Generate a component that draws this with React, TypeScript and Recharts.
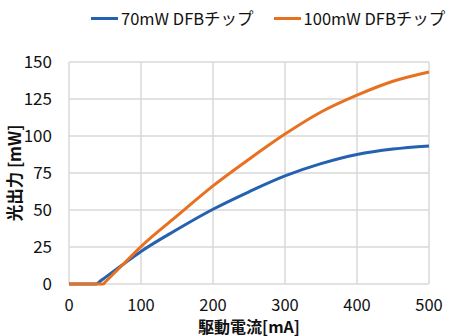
import React from "react";
import { LineChart, Line, XAxis, YAxis, CartesianGrid, Legend } from "recharts";

const currentMA70 = [0, 38, 42, 50, 75, 100, 150, 200, 250, 300, 350, 400, 450, 500];
const power70 = [0, 0, 1.4, 4.3, 13.2, 22, 36.8, 50.5, 62.3, 73, 81.3, 87.5, 91.2, 93.3];
const currentMA100 = [0, 47.5, 51, 75, 100, 150, 200, 250, 300, 350, 400, 450, 500];
const power100 = [0, 0, 1.7, 13.2, 25.3, 46, 66.3, 84.3, 101.3, 116.2, 127.6, 137, 143.3];
const xTicks = [0, 100, 200, 300, 400, 500];
const yTicks = [0, 25, 50, 75, 100, 125, 150];
const seriesNames = ["70mW DFBチップ", "100mW DFBチップ"];
const seriesColors = ["#2461B0", "#E8711F"];
const xTitle = "駆動電流[mA]";
const yTitle = "光出力 [mW]";

const data70 = currentMA70.map((x, i) => ({ x, y: power70[i] }));
const data100 = currentMA100.map((x, i) => ({ x, y: power100[i] }));

const FONT = "'Noto Sans CJK JP', 'Noto Sans', sans-serif";
const TEXT = "#111";

const LegendContent = () => (
  <div style={{ display: "flex", justifyContent: "flex-start", fontFamily: FONT, fontSize: 16.5, color: TEXT, paddingLeft: 91, lineHeight: "24px" }}>
    {seriesNames.map((n, i) => (
      <div key={n} style={{ display: "flex", alignItems: "center", marginRight: i === 0 ? 20 : 0 }}>
        <div style={{ width: 27, height: 3, background: seriesColors[i], marginRight: 3 }} />
        <span>{n}</span>
      </div>
    ))}
  </div>
);

const XTitle = (props: any) => {
  const vb = props.viewBox || {};
  return (
    <text x={vb.x + vb.width / 2} y={325.5} textAnchor="middle" dominantBaseline="central" fontFamily={FONT} fontSize={16} fontWeight="bold" fill={TEXT}>
      {xTitle}
    </text>
  );
};

const YTitle = (props: any) => {
  const vb = props.viewBox || {};
  const cx = 14;
  const cy = vb.y + vb.height / 2;
  return (
    <text x={cx} y={cy} transform={`rotate(-90, ${cx}, ${cy})`} textAnchor="middle" dominantBaseline="central" fontFamily={FONT} fontSize={16.5} fontWeight="bold" fill={TEXT}>
      {yTitle}
    </text>
  );
};

export default function App() {
  return (
    <div style={{ position: "absolute", left: 0, top: 0, background: "#fff" }}>
      <LineChart width={456} height={336} margin={{ top: 38, right: 27, bottom: 0, left: 0 }}>
        <CartesianGrid stroke="#D9D9D9" strokeWidth={1.5} />
        <XAxis
          type="number"
          dataKey="x"
          domain={[0, 500]}
          ticks={xTicks}
          axisLine={false}
          tickLine={false}
          tickMargin={9}
          height={52}
          tick={{ fontSize: 16.5, fill: TEXT, fontFamily: FONT }}
          label={<XTitle />}
        />
        <YAxis
          type="number"
          domain={[0, 150]}
          ticks={yTicks}
          axisLine={false}
          tickLine={false}
          tickMargin={11}
          width={69}
          tick={{ fontSize: 17, fill: TEXT, fontFamily: FONT }}
          label={<YTitle />}
        />
        <Legend
          layout="vertical"
          align="center"
          verticalAlign="top"
          content={<LegendContent />}
          wrapperStyle={{ top: 6, left: 0, width: 456 }}
        />
        <Line data={data70} dataKey="y" name={seriesNames[0]} type="monotone" stroke={seriesColors[0]} strokeWidth={3} dot={false} isAnimationActive={false} />
        <Line data={data100} dataKey="y" name={seriesNames[1]} type="monotone" stroke={seriesColors[1]} strokeWidth={3} dot={false} isAnimationActive={false} />
      </LineChart>
    </div>
  );
}
